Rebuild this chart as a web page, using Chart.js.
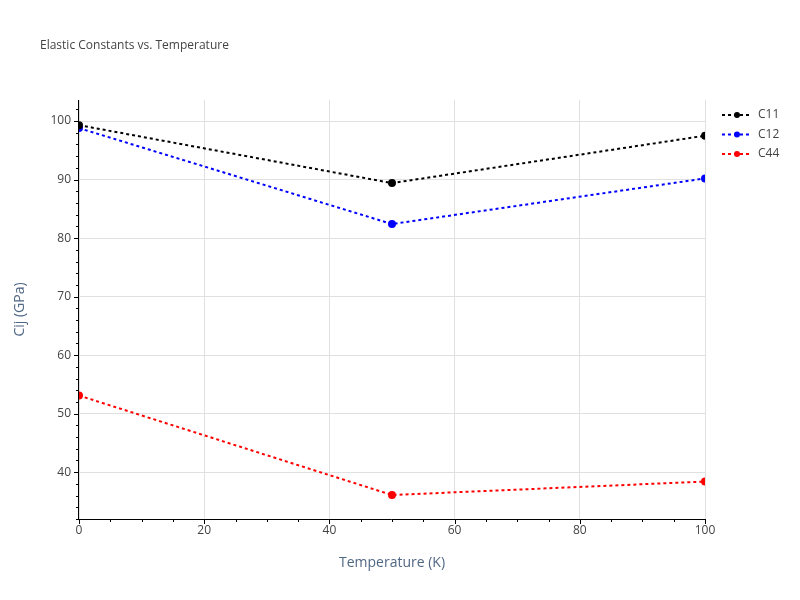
<!DOCTYPE html>
<html>
<head>
<meta charset="utf-8">
<script src="https://cdn.jsdelivr.net/npm/chart.js@4.4.0/dist/chart.umd.min.js"></script>
<style>
  html, body { margin: 0; padding: 0; background: #fff; }
  #wrap { width: 800px; height: 600px; }
</style>
</head>
<body>
<div id="wrap"><canvas id="chart" width="800" height="600"></canvas></div>
<script>
const temperatures = [0, 50, 100];
const seriesNames = ['C11', 'C12', 'C44'];
const c11Values = [99.3, 89.4, 97.5];
const c12Values = [98.8, 82.4, 90.2];
const c44Values = [53.1, 36.1, 38.4];
const seriesColors = ['#000000', '#0000ff', '#ff0000'];

const allValues = [c11Values, c12Values, c44Values];
const datasets = seriesNames.map((name, i) => ({
  label: name,
  data: temperatures.map((t, j) => ({ x: t, y: allValues[i][j] })),
  borderColor: seriesColors[i],
  backgroundColor: seriesColors[i],
  borderWidth: 2,
  borderDash: [3, 3],
  pointRadius: 3,
  pointHoverRadius: 3,
  tension: 0,
}));

const extras = {
  id: 'extras',
  afterDraw(chart) {
    const { ctx, chartArea: a, scales } = chart;
    ctx.save();
    // axis lines
    ctx.strokeStyle = '#000';
    ctx.lineWidth = 1;
    ctx.beginPath();
    ctx.moveTo(a.left - 0.5, a.top);
    ctx.lineTo(a.left - 0.5, a.bottom + 0.5);
    ctx.lineTo(a.right, a.bottom + 0.5);
    ctx.stroke();
    // minor ticks
    ctx.beginPath();
    for (let v = 0; v <= 100; v += 5) {
      const x = Math.round(scales.x.getPixelForValue(v)) + 0.5;
      const len = v % 20 === 0 ? 5 : 3;
      ctx.moveTo(x, a.bottom);
      ctx.lineTo(x, a.bottom + len);
    }
    for (let v = 32; v <= 102; v += 2) {
      const y = Math.round(scales.y.getPixelForValue(v)) + 0.5;
      const len = v % 10 === 0 ? 5 : 3;
      ctx.moveTo(a.left, y);
      ctx.lineTo(a.left - len, y);
    }
    ctx.stroke();
    // title
    ctx.fillStyle = '#444';
    ctx.font = '12px "Open Sans", sans-serif';
    ctx.textBaseline = 'middle';
    ctx.fillText('Elastic Constants vs. Temperature', 40, 46);
    // axis titles
    ctx.fillStyle = '#506784';
    ctx.font = '14px "Open Sans", sans-serif';
    ctx.textAlign = 'center';
    ctx.fillText('Temperature (K)', (a.left + a.right) / 2, 563);
    ctx.save();
    ctx.translate(20, (a.top + a.bottom) / 2);
    ctx.rotate(-Math.PI / 2);
    ctx.fillText('Cij (GPa)', 0, 0);
    ctx.restore();
    ctx.textAlign = 'left';
    // legend
    ctx.font = '12px "Open Sans", sans-serif';
    seriesNames.forEach((name, i) => {
      const y = 115 + i * 19.5;
      ctx.strokeStyle = seriesColors[i];
      ctx.fillStyle = seriesColors[i];
      ctx.lineWidth = 2;
      ctx.setLineDash([3, 3]);
      ctx.beginPath();
      ctx.moveTo(722, y);
      ctx.lineTo(752, y);
      ctx.stroke();
      ctx.setLineDash([]);
      ctx.beginPath();
      ctx.arc(737, y, 3, 0, Math.PI * 2);
      ctx.fill();
      ctx.fillStyle = '#444';
      ctx.fillText(name, 758, y);
    });
    ctx.restore();
  }
};

new Chart(document.getElementById('chart'), {
  type: 'line',
  data: { datasets },
  options: {
    responsive: false,
    animation: false,
    layout: { padding: { left: 0, right: 95, top: 100, bottom: 0 } },
    plugins: { legend: { display: false }, tooltip: { enabled: false } },
    scales: {
      x: {
        type: 'linear',
        min: 0,
        max: 100,
        ticks: { stepSize: 20, color: '#444', font: { family: 'Open Sans', size: 12 }, padding: 4 },
        grid: { color: '#e0e0e0', drawTicks: false },
        border: { display: false },
        afterFit(s) { s.height = 81; },
      },
      y: {
        min: 32,
        max: 103.6,
        afterBuildTicks(s) { s.ticks = [40, 50, 60, 70, 80, 90, 100].map(v => ({ value: v })); },
        ticks: { color: '#444', font: { family: 'Open Sans', size: 12 }, padding: 8 },
        grid: { color: '#e0e0e0', drawTicks: false },
        border: { display: false },
        afterFit(s) { s.width = 79; },
      },
    },
  },
  plugins: [extras],
});
</script>
</body>
</html>
